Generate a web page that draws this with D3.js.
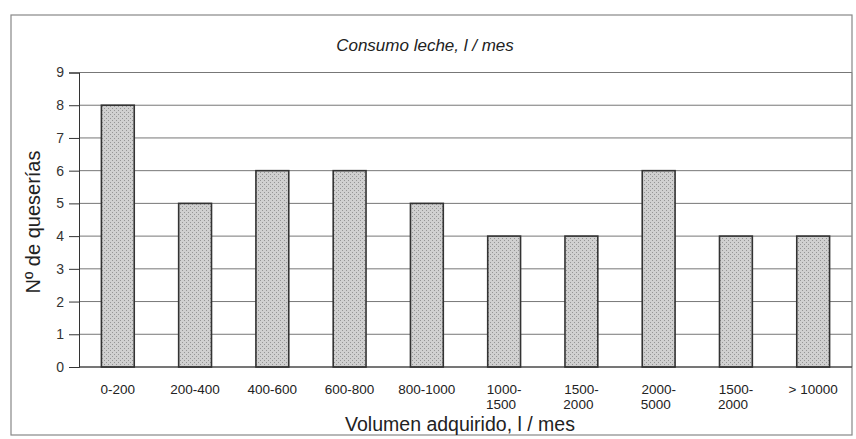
<!DOCTYPE html>
<html><head><meta charset="utf-8">
<script src="https://cdn.jsdelivr.net/npm/d3@7"></script>
<style>body{margin:0;background:#fff}svg{display:block}text{font-family:"Liberation Sans",Arial,sans-serif;fill:#222}</style>
</head><body><svg id="c" width="856" height="439"></svg>
<script>
const categories = ["0-200","200-400","400-600","600-800","800-1000","1000-\n1500","1500-\n2000","2000-\n5000","1500-\n2000","> 10000"];
const values = [8,5,6,6,5,4,4,6,4,4];
const yTicks = [0,1,2,3,4,5,6,7,8,9];
const title = "Consumo leche, l / mes";
const xTitle = "Volumen adquirido, l / mes";
const yTitle = "Nº de queserías";

const svg = d3.select("#c");
const m = {left:79, right:852, top:72.5, bottom:367};
const idx = categories.map((c,i)=>i);

const defs = svg.append("defs");
const pat = defs.append("pattern").attr("id","dots").attr("width",4).attr("height",4).attr("patternUnits","userSpaceOnUse");
pat.append("rect").attr("width",4).attr("height",4).attr("fill","#d0d0d0");
pat.append("rect").attr("x",0).attr("y",0).attr("width",1).attr("height",1).attr("fill","#959595");
pat.append("rect").attr("x",2).attr("y",2).attr("width",1).attr("height",1).attr("fill","#959595");

svg.append("rect").attr("x",11).attr("y",15).attr("width",841).attr("height",420)
  .attr("fill","none").attr("stroke","#888").attr("stroke-width",1.2);

const x = d3.scaleBand().domain(idx).range([m.left,m.right]).paddingInner(0.575).paddingOuter(0.29);
const y = d3.scaleLinear().domain([0,9]).range([m.bottom,m.top]);

svg.append("g").selectAll("line").data(yTicks).join("line")
  .attr("x1",m.left).attr("x2",m.right).attr("y1",d=>y(d)).attr("y2",d=>y(d))
  .attr("stroke","#777").attr("stroke-width",1);
svg.append("line").attr("x1",m.right).attr("x2",m.right).attr("y1",m.top).attr("y2",m.bottom).attr("stroke","#999");

const ya = svg.append("g").attr("transform",`translate(${m.left},0)`)
  .call(d3.axisLeft(y).tickValues(yTicks).tickFormat(d3.format("d")).tickSize(10).tickPadding(5));
ya.select(".domain").attr("stroke","#333");
ya.selectAll(".tick line").attr("stroke","#333");
ya.selectAll("text").attr("font-size",14).style("fill","#333");

svg.append("g").selectAll("rect").data(values).join("rect")
  .attr("x",(d,i)=>x(i)).attr("width",x.bandwidth())
  .attr("y",d=>y(d)).attr("height",d=>y(0)-y(d))
  .attr("fill","url(#dots)").attr("stroke","#333").attr("stroke-width",1.6);

svg.append("line").attr("x1",m.left).attr("x2",m.right).attr("y1",y(0)).attr("y2",y(0)).attr("stroke","#333");

const xl = svg.append("g");
categories.forEach((c,i)=>{
  const lines = c.split("\n");
  const cx = x(i)+x.bandwidth()/2;
  const t = xl.append("text").attr("text-anchor","middle").attr("font-size",13.5).attr("y",394);
  lines.forEach((l,j)=>t.append("tspan").attr("x",cx + (j>0?-3:0)).attr("dy",j?15:0).text(l));
});

svg.append("text").attr("x",425).attr("y",51).attr("text-anchor","middle").attr("font-size",17)
  .attr("font-style","italic").text(title);
svg.append("text").attr("x",460).attr("y",431).attr("text-anchor","middle").attr("font-size",19.5).text(xTitle);
svg.append("text").attr("transform","translate(40,222) rotate(-90)").attr("text-anchor","middle")
  .attr("font-size",20).text(yTitle);
</script></body></html>
